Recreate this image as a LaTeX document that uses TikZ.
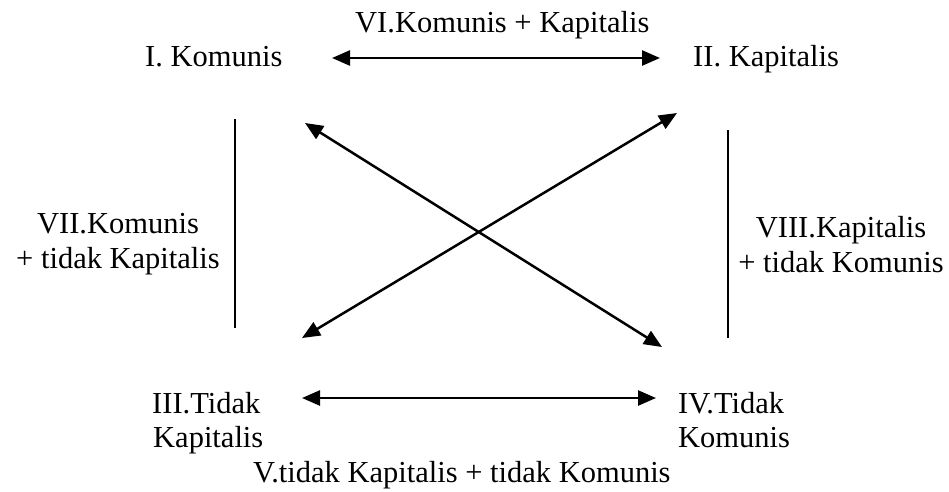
\documentclass[tikz,border=0pt]{standalone}
\usepackage{fontspec}
\setmainfont{Liberation Serif}
\usetikzlibrary{arrows.meta}
\begin{document}
\begin{tikzpicture}[x=1pt,y=-1pt,
  lbl/.style={font=\fontsize{30.5}{35}\selectfont, inner sep=0pt, anchor=base west},
  mlbl/.style={font=\fontsize{30.5}{35}\selectfont, inner sep=0pt, align=center},
  conn/.style={line width=2.5pt, {Triangle[length=18pt,width=15pt]}-{Triangle[length=18pt,width=15pt]}},
  bar/.style={line width=2.3pt}]
\useasboundingbox (0,0) rectangle (949,491);
% text nodes
\node[lbl] (top)  at (355,32) {VI.Komunis + Kapitalis};
\node[lbl] (kom)  at (145,66) {I. Komunis};
\node[lbl] (kap)  at (693,66) {II. Kapitalis};
\node[lbl] (tk1)  at (152,413) {III.Tidak};
\node[lbl] (tk2)  at (153,447) {Kapitalis};
\node[lbl] (tko1) at (678,413) {IV.Tidak};
\node[lbl] (tko2) at (678,447) {Komunis};
\node[lbl] (bot)  at (253,482) {V.tidak Kapitalis + tidak Komunis};
\node[mlbl] (left)  at (118,244) {VII.Komunis\\+ tidak Kapitalis};
\node[mlbl] (right) at (841,245) {VIII.Kapitalis\\+ tidak Komunis};
% connector end points
\coordinate (tL) at (332,58);
\coordinate (tR) at (660,58);
\coordinate (bL) at (302,398);
\coordinate (bR) at (656,398);
\coordinate (dA1) at (305,123);
\coordinate (dA2) at (662,347);
\coordinate (dB1) at (677,113);
\coordinate (dB2) at (302,338);
\coordinate (lb1) at (235,119);
\coordinate (lb2) at (235,328);
\coordinate (rb1) at (728,130);
\coordinate (rb2) at (728,338);
% connectors
\draw[conn] (tL) -- (tR);
\draw[conn] (bL) -- (bR);
\draw[conn] (dA1) -- (dA2);
\draw[conn] (dB1) -- (dB2);
\draw[bar] (lb1) -- (lb2);
\draw[bar] (rb1) -- (rb2);
\end{tikzpicture}
\end{document}
